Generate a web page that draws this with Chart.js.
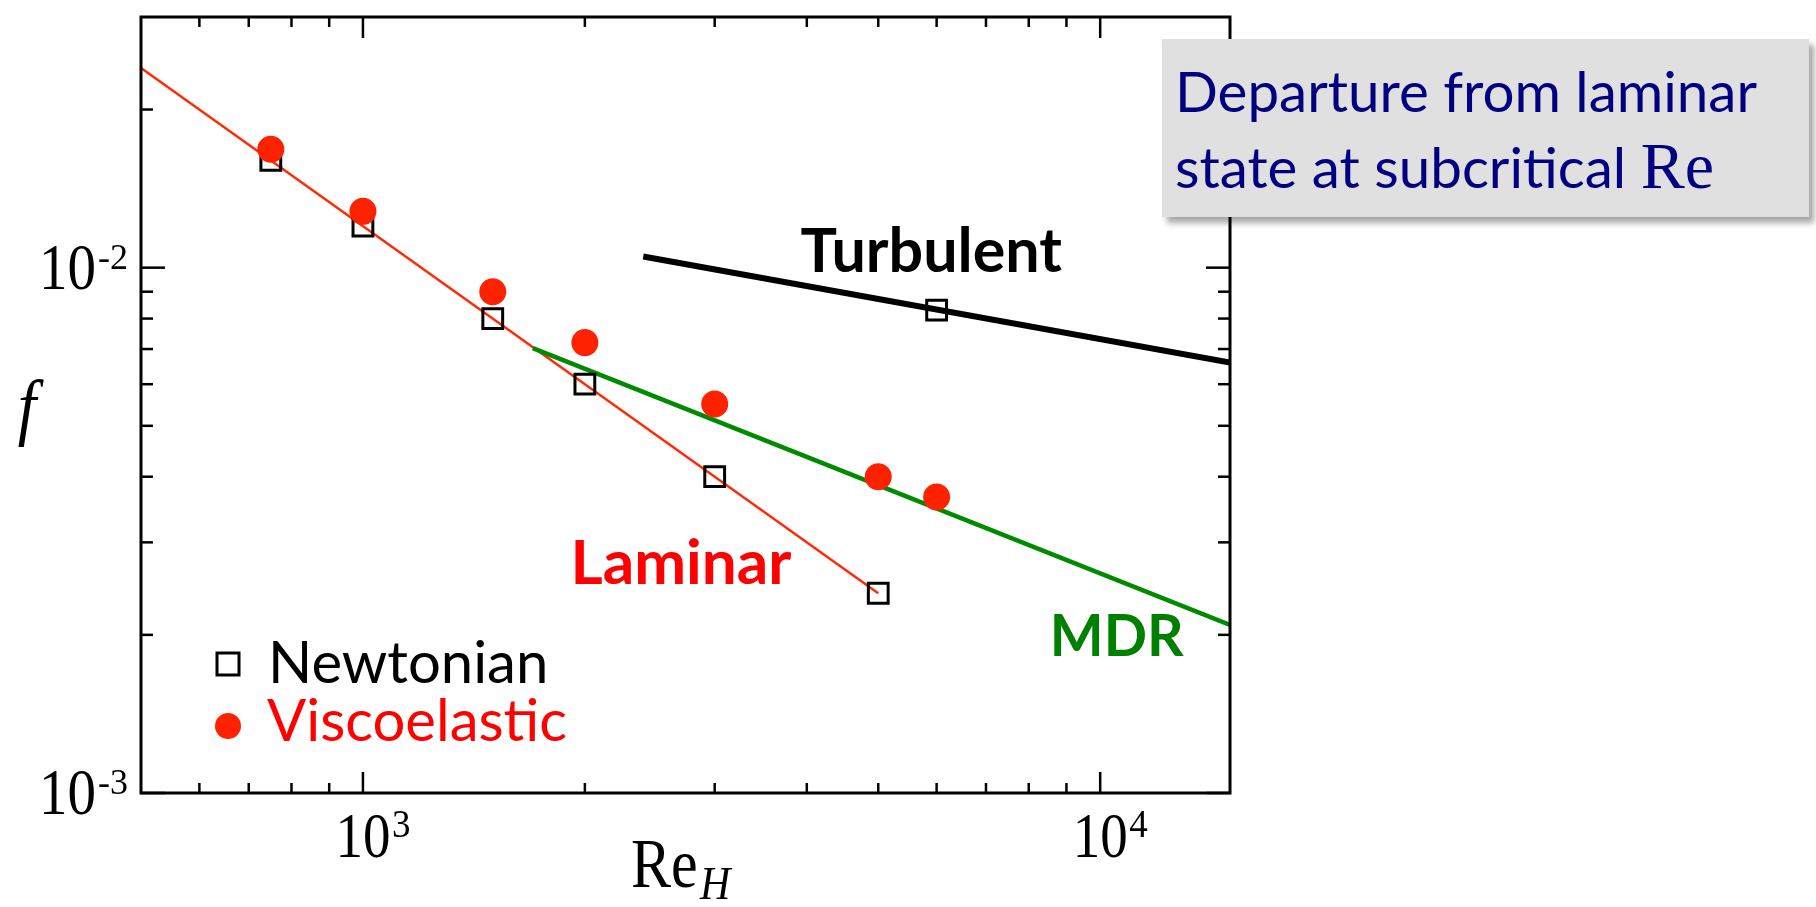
<!DOCTYPE html>
<html>
<head>
<meta charset="utf-8">
<title>Friction factor vs Re</title>
<script src="https://cdn.jsdelivr.net/npm/chart.js@4.4.1/dist/chart.umd.min.js"></script>
<style>
  html, body { margin: 0; padding: 0; background: #fff; }
  #wrap { position: relative; width: 1816px; height: 907px; overflow: hidden; }
  #note {
    position: absolute; left: 1162px; top: 39px; width: 647px; height: 178px;
    background: #e0e0e0; box-shadow: 5px 6px 6px rgba(0,0,0,0.35);
    box-sizing: border-box; padding: 14px 0 0 13px;
    font-family: Lato, sans-serif; font-size: 56.5px; line-height: 75px; color: #000080;
    white-space: nowrap;
  }
  #note .re { font-family: "Liberation Serif", serif; font-size: 66px; }
</style>
</head>
<body>
<div id="wrap">
  <canvas id="chart" width="1816" height="907"></canvas>
  <div id="note">Departure from laminar<br>state at subcritical <span class="re">Re</span></div>
</div>
<script>
// --- datos ---
const newtonRe = [750, 1000, 1500, 2000, 3000, 5000, 6000];
const newtonF = [0.0160, 0.0120, 0.0080, 0.0060, 0.0040, 0.0024, 0.0083];
const viscoRe = [750, 1000, 1500, 2000, 3000, 5000, 6000];
const viscoF = [0.0168, 0.0128, 0.0090, 0.0072, 0.0055, 0.0040, 0.00366];

const laminarRe = [500, 5000];
const laminarF = [0.024, 0.0024];
const mdrRe = [1700, 15000];
const mdrF = [0.00703, 0.00209];
const turbRe = [2400, 15000];
const turbF = [0.0105, 0.0066];

const xMajorTicks = [1000, 10000];
const xMajorLabels = ['3', '4'];
const xMinorTicks = [600, 700, 800, 900, 2000, 3000, 4000, 5000, 6000, 7000, 8000, 9000];
const yMajorTicks = [0.001, 0.01];
const yMajorLabels = ['-3', '-2'];
const yMinorTicks = [0.002, 0.003, 0.004, 0.005, 0.006, 0.007, 0.008, 0.009, 0.02];

const toXY = (xs, ys) => xs.map((v, i) => ({ x: v, y: ys[i] }));

// texto con estiramiento vertical (el original está algo estirado)
function drawText(ctx, text, x, y, font, color, align, sy) {
    ctx.save();
    ctx.translate(x, y);
    ctx.scale(1, sy || 1);
    ctx.font = font;
    ctx.fillStyle = color;
    ctx.textAlign = align || 'left';
    ctx.textBaseline = 'alphabetic';
    ctx.fillText(text, 0, 0);
    ctx.restore();
}

const serif = '"Liberation Serif", "Times New Roman", serif';
const sans = 'Lato, "Open Sans", sans-serif';

// marco, ticks hacia dentro, etiquetas y anotaciones
const framePlugin = {
    id: 'frame',
    afterDraw(chart) {
        const { ctx, chartArea: a, scales: { x, y } } = chart;
        ctx.save();
        ctx.strokeStyle = '#000';
        ctx.lineCap = 'butt';

        const line = (x1, y1, x2, y2) => {
            ctx.beginPath();
            ctx.moveTo(x1, y1);
            ctx.lineTo(x2, y2);
            ctx.stroke();
        };

        ctx.lineWidth = 2.5;
        xMinorTicks.forEach(v => {
            const px = x.getPixelForValue(v);
            line(px, a.bottom, px, a.bottom - 10);
            line(px, a.top, px, a.top + 10);
        });
        xMajorTicks.forEach(v => {
            const px = x.getPixelForValue(v);
            line(px, a.bottom, px, a.bottom - 21);
            line(px, a.top, px, a.top + 21);
        });
        yMinorTicks.forEach(v => {
            const py = y.getPixelForValue(v);
            line(a.left, py, a.left + 12, py);
            line(a.right, py, a.right - 12, py);
        });
        yMajorTicks.forEach(v => {
            const py = y.getPixelForValue(v);
            line(a.left, py, a.left + 24, py);
            line(a.right, py, a.right - 24, py);
        });

        ctx.lineWidth = 3;
        ctx.strokeRect(a.left, a.top, a.right - a.left, a.bottom - a.top);

        // etiquetas eje x: 10^n
        xMajorTicks.forEach((v, i) => {
            const px = x.getPixelForValue(v);
            drawText(ctx, '10', px, a.bottom + 64, '55px ' + serif, '#000', 'center', 1.15);
            drawText(ctx, xMajorLabels[i], px + 29, a.bottom + 44, '37px ' + serif, '#000', 'left', 1.1);
        });
        // etiquetas eje y
        yMajorTicks.forEach((v, i) => {
            const py = y.getPixelForValue(v);
            drawText(ctx, '10', a.left - 45, py + 21, '57px ' + serif, '#000', 'right', 1.15);
            drawText(ctx, yMajorLabels[i], a.left - 43, py + 1, '36px ' + serif, '#000', 'left', 1.0);
        });

        // títulos de ejes
        drawText(ctx, 'f', a.left - 114, a.top + 414, 'italic 66px ' + serif, '#000', 'center', 1.12);
        drawText(ctx, 'Re', a.left + 490, a.bottom + 94, '60px ' + serif, '#000', 'left', 1.15);
        drawText(ctx, 'H', a.left + 559, a.bottom + 106, 'italic 42px ' + serif, '#000', 'left', 1.1);

        // etiquetas de las curvas
        drawText(ctx, 'Turbulent', x.getPixelForValue(5900), y.getPixelForValue(0.0098), 'bold 61px ' + sans, '#000', 'center');
        drawText(ctx, 'Laminar', x.getPixelForValue(2700), y.getPixelForValue(0.0025), 'bold 62px ' + sans, '#ff0000', 'center');
        drawText(ctx, 'MDR', x.getPixelForValue(10530), y.getPixelForValue(0.00182), 'bold 57px ' + sans, '#008000', 'center');

        // leyenda
        const lx = a.left + 87;
        ctx.lineWidth = 3;
        ctx.strokeStyle = '#000';
        ctx.strokeRect(lx - 11, a.top + 636, 22, 22);
        drawText(ctx, 'Newtonian', a.left + 127, a.top + 666, '58px ' + sans, '#000', 'left');
        ctx.beginPath();
        ctx.fillStyle = '#ff2200';
        ctx.arc(lx, a.top + 709, 13, 0, Math.PI * 2);
        ctx.fill();
        drawText(ctx, 'Viscoelastic', a.left + 126, a.top + 724, '58px ' + sans, '#ff0000', 'left');

        ctx.restore();
    }
};

new Chart(document.getElementById('chart'), {
    type: 'scatter',
    data: {
        datasets: [
            {
                label: 'Viscoelastic',
                data: toXY(viscoRe, viscoF),
                pointStyle: 'circle',
                pointRadius: 13.5,
                pointBorderWidth: 0,
                backgroundColor: '#ff2200',
                borderColor: '#ff2200'
            },
            {
                label: 'Newtonian',
                data: toXY(newtonRe, newtonF),
                pointStyle: 'rect',
                pointRadius: 14,
                pointBorderWidth: 3,
                borderColor: '#000',
                backgroundColor: 'rgba(0,0,0,0)'
            },
            {
                label: 'Turbulent',
                data: toXY(turbRe, turbF),
                showLine: true,
                pointRadius: 0,
                borderColor: '#000',
                borderWidth: 6
            },
            {
                label: 'MDR',
                data: toXY(mdrRe, mdrF),
                showLine: true,
                pointRadius: 0,
                borderColor: '#008a00',
                borderWidth: 4.5
            },
            {
                label: 'Laminar',
                data: toXY(laminarRe, laminarF),
                showLine: true,
                pointRadius: 0,
                borderColor: '#ff2a0a',
                borderWidth: 2.5
            }
        ]
    },
    options: {
        responsive: false,
        animation: false,
        devicePixelRatio: 1,
        layout: { padding: { left: 141, top: 13, right: 586, bottom: 114 } },
        plugins: {
            legend: { display: false },
            tooltip: { enabled: false }
        },
        scales: {
            x: { type: 'logarithmic', display: false, min: 500, max: 15000 },
            y: { type: 'logarithmic', display: false, min: 0.001, max: 0.03 }
        }
    },
    plugins: [framePlugin]
});
</script>
</body>
</html>
